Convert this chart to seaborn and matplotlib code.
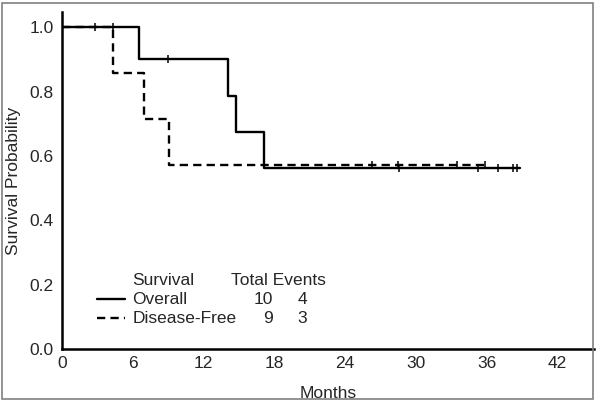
import numpy as np
import pandas as pd
import seaborn as sns
import matplotlib.pyplot as plt
from matplotlib.patches import Rectangle
from matplotlib.lines import Line2D

# Kaplan-Meier steps
overall_times = [0.0, 6.5, 14.1, 14.8, 17.1, 38.8]
overall_surv = [1.0, 0.9, 0.7875, 0.675, 0.5625, 0.5625]
overall_censor = [9.0, 28.6, 35.3, 37.0, 38.2, 38.6]

dfs_times = [0.0, 4.35, 7.0, 9.1, 36.0]
dfs_surv = [1.0, 0.857, 0.714, 0.571, 0.571]
dfs_censor = [2.8, 4.3, 26.3, 28.5, 33.5, 35.9]

legend_rows = ["Overall", "Disease-Free"]
legend_total = ["10", "9"]
legend_events = ["4", "3"]

x_ticks = [0, 6, 12, 18, 24, 30, 36, 42]
y_ticks = [0.0, 0.2, 0.4, 0.6, 0.8, 1.0]

FS = 12.5
DASH = (0, (3.5, 2.2))


def surv_at(times, surv, t):
    """Step function value at time t"""
    idx = np.searchsorted(times, t, side='right') - 1
    return surv[idx]


def censor_frame(times, surv, censor):
    return pd.DataFrame({'t': censor, 's': [surv_at(times, surv, c) for c in censor]})


sns.set_style("white")
plt.rcParams['font.family'] = ['Liberation Sans', 'DejaVu Sans']

fig = plt.figure(figsize=(6, 4.05), dpi=100)
ax = fig.add_axes([0.103, 0.138, 0.887, 0.832])

# curves
sns.lineplot(x=overall_times, y=overall_surv, drawstyle='steps-post', color='black',
             linewidth=1.7, ax=ax, estimator=None, sort=False)
sns.lineplot(x=dfs_times, y=dfs_surv, drawstyle='steps-post', color='black',
             linewidth=1.7, linestyle=DASH, ax=ax, estimator=None, sort=False)

# censoring marks
for df in (censor_frame(overall_times, overall_surv, overall_censor),
           censor_frame(dfs_times, dfs_surv, dfs_censor)):
    sns.scatterplot(data=df, x='t', y='s', marker='|', s=40, color='black',
                    linewidth=1.1, ax=ax, legend=False)

ax.set_xlim(0, 45.1)
ax.set_ylim(0, 1.047)
ax.set_xticks(x_ticks)
ax.set_yticks(y_ticks)
ax.set_yticklabels([f"{v:.1f}" for v in y_ticks])
ax.tick_params(direction='in', length=2.5, width=1, labelsize=FS, color='black')
ax.tick_params(axis='x', pad=5)
ax.tick_params(axis='y', pad=6)
ax.set_xlabel("Months", fontsize=FS, labelpad=11)
ax.set_ylabel("Survival Probability", fontsize=FS, labelpad=6)

for side in ('top', 'right'):
    ax.spines[side].set_visible(False)
for side in ('left', 'bottom'):
    ax.spines[side].set_color('black')
    ax.spines[side].set_linewidth(1.8)

# table style legend
ax.text(6.0, 0.214, "Survival", fontsize=FS, va='center', ha='left')
ax.text(14.3, 0.214, "Total Events", fontsize=FS, va='center', ha='left')
row_y = [0.155, 0.096]
styles = ['-', DASH]
for y, name, tot, ev, ls in zip(row_y, legend_rows, legend_total, legend_events, styles):
    ax.add_line(Line2D([2.95, 5.35], [y, y], color='black', linewidth=1.7, linestyle=ls))
    ax.text(6.0, y, name, fontsize=FS, va='center', ha='left')
    ax.text(17.9, y, tot, fontsize=FS, va='center', ha='right')
    ax.text(20.4, y, ev, fontsize=FS, va='center', ha='center')

# grey frame around the figure
fig.patches.append(Rectangle((0.004, 0.015), 0.985, 0.978, transform=fig.transFigure,
                             fill=False, edgecolor='#808080', linewidth=1.2))

fig.savefig("out.png", dpi=100)
